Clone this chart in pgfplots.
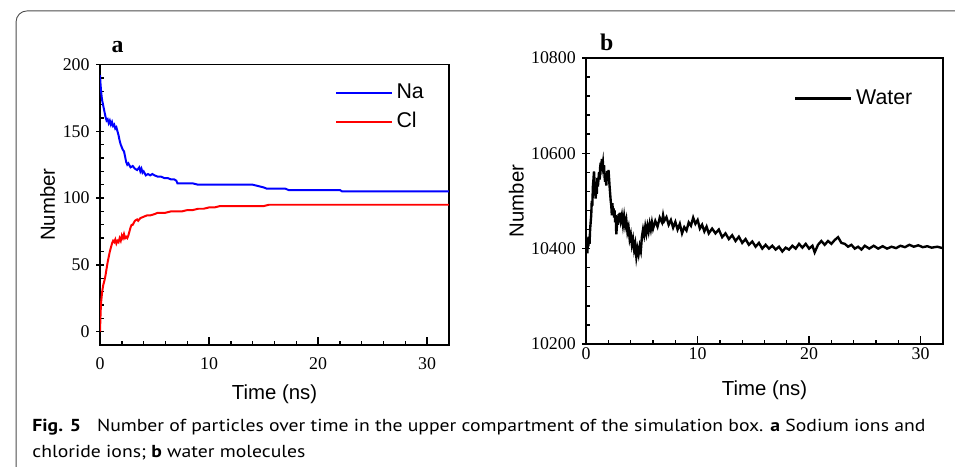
\documentclass[border=0pt]{standalone}
\usepackage{fontspec}
\setmainfont{Liberation Serif}
\setsansfont{Liberation Sans}
\newfontfamily\capfont{PT Sans}
\usepackage{graphicx}
\usepackage{pgfplots}
\pgfplotsset{compat=1.18}

\pgfplotstableread{
x y
0 192
0.05 185
0.1 180
0.15 176
0.2 173
0.3 169
0.4 165
0.5 161
0.6 158
0.7 159
0.8 156
0.9 158
1.0 155
1.1 157
1.2 154
1.3 155
1.4 152
1.5 153
1.6 150
1.7 147
1.8 143
1.9 140
2.0 138
2.1 136
2.2 135
2.3 131
2.4 127
2.5 125
2.6 126
2.8 123
3.0 124
3.2 122
3.4 121
3.6 123
3.7 120
3.8 122
3.9 119
4.0 120
4.2 117
4.4 118
4.6 117
4.8 118
5.0 117
5.3 116
5.6 116
5.9 115
6.2 115
6.5 114
6.8 114
7.0 113
7.1 111
7.5 111
8.0 111
8.5 111
9.0 110
9.5 110
10 110
11 110
12 110
13 110
14 110
14.5 109
15.0 108
15.3 107
16 107
17 107
17.3 106
18 106
20 106
22 106
22.2 105
24 105
26 105
28 105
30 105
32 105
}\natable

\pgfplotstableread{
x y
0 0
0.03 8
0.06 15
0.1 22
0.15 26
0.2 30
0.3 35
0.4 38
0.5 42
0.6 47
0.7 52
0.8 56
0.9 60
1.0 63
1.1 66
1.2 68
1.3 67
1.4 69
1.5 66
1.6 68
1.7 67
1.8 70
1.9 68
2.0 72
2.1 70
2.2 73
2.3 70
2.4 71
2.5 70
2.6 72
2.7 75
2.8 78
2.9 80
3.0 80
3.2 83
3.4 84
3.5 83
3.7 85
4.0 86
4.3 87
4.6 87
5.0 88
5.3 89
5.7 89
6.0 89
6.5 90
7.0 90
7.5 90
8.0 91
8.5 91
9.0 92
9.5 92
10 93
10.5 93
11 94
12 94
13 94
14 94
15 94
15.5 95
17 95
20 95
25 95
32 95
}\cltable

\pgfplotstableread{
x y
0.00 10425
0.05 10400
0.10 10390
0.15 10415
0.20 10405
0.25 10425
0.30 10410
0.35 10440
0.40 10455
0.45 10470
0.50 10500
0.55 10490
0.60 10530
0.65 10545
0.70 10562
0.75 10540
0.80 10520
0.85 10505
0.90 10530
0.95 10515
1.00 10548
1.05 10530
1.10 10545
1.15 10560
1.20 10545
1.25 10570
1.30 10580
1.35 10565
1.40 10588
1.45 10572
1.50 10580
1.55 10560
1.60 10575
1.65 10550
1.70 10540
1.75 10555
1.80 10532
1.85 10550
1.90 10563
1.95 10545
2.00 10565
2.05 10548
2.10 10530
2.15 10515
2.20 10500
2.25 10490
2.30 10470
2.35 10495
2.40 10475
2.45 10485
2.50 10465
2.55 10480
2.60 10455
2.65 10470
2.70 10430
2.75 10445
2.80 10465
2.85 10450
2.90 10472
2.95 10455
3.00 10475
3.10 10458
3.20 10470
3.30 10450
3.40 10468
3.50 10448
3.60 10460
3.70 10435
3.80 10445
3.90 10420
4.00 10430
4.10 10408
4.20 10420
4.30 10398
4.40 10410
4.50 10383
4.60 10400
4.70 10388
4.80 10405
4.90 10395
5.00 10425
5.10 10440
5.20 10428
5.30 10446
5.40 10432
5.50 10448
5.60 10436
5.70 10452
5.80 10440
5.90 10455
6.00 10442
6.20 10458
6.40 10446
6.60 10465
6.80 10455
6.90 10470
7.00 10458
7.20 10466
7.40 10450
7.60 10460
7.80 10444
8.00 10456
8.20 10440
8.40 10452
8.60 10432
8.80 10445
9.00 10438
9.20 10455
9.40 10448
9.60 10465
9.80 10452
10.00 10460
10.20 10442
10.40 10450
10.60 10436
10.80 10446
11.00 10432
11.30 10442
11.60 10432
11.90 10440
12.20 10424
12.50 10432
12.80 10420
13.10 10428
13.40 10416
13.70 10425
14.00 10412
14.30 10420
14.60 10408
14.90 10415
15.20 10404
15.50 10412
15.80 10400
16.10 10408
16.40 10400
16.70 10406
17.00 10398
17.30 10404
17.60 10394
17.90 10402
18.20 10398
18.50 10406
18.80 10400
19.10 10410
19.40 10402
19.70 10410
20.00 10400
20.30 10406
20.50 10392
20.80 10408
21.10 10416
21.40 10408
21.70 10416
22.00 10410
22.30 10418
22.60 10424
22.90 10412
23.20 10410
23.50 10404
23.80 10408
24.10 10400
24.40 10404
24.70 10398
25.00 10406
25.40 10400
25.80 10406
26.20 10400
26.60 10405
27.00 10400
27.40 10404
27.80 10401
28.20 10406
28.60 10403
29.00 10408
29.40 10404
29.80 10407
30.20 10403
30.60 10405
31.00 10402
31.50 10404
32.00 10401
}\watertable

\pgfplotsset{
  panel/.style={
    scale only axis, anchor=south west,
    xmin=0, xmax=32, xtick={0,10,20,30}, minor x tick num=4,
    tick align=inside, tick pos=left,
    axis line style={line width=1.5pt},
    major tick length=8pt, minor tick length=4pt,
    every tick/.append style={black, line width=1.4pt},
    major y tick style={xshift=-4pt},
    scaled y ticks=false,
    tick label style={font=\fontsize{18}{18}\selectfont},
    yticklabel style={xshift=-7pt},
    /pgf/number format/assume math mode=true,
    /pgf/number format/1000 sep={},
    /pgf/number format/fixed,
    label style={font=\sffamily\fontsize{20.5}{20.5}\selectfont},
    xlabel={Time (ns)}, ylabel={Number},
    legend style={draw=none, fill=none, inner sep=0pt,
      font=\sffamily\fontsize{21.5}{21.5}\selectfont,
      nodes={inner sep=0pt, text height=16pt, text depth=4pt},
      column sep=4pt, row sep=9.4pt},
    legend cell align=left,
    legend image code/.code={\draw[##1] (0pt,0pt) -- (56pt,0pt);},
  }
}

\newsavebox\capA
\newsavebox\capB

\begin{document}
\sbox\capA{\capfont\fontsize{17.5}{17.5}\selectfont\textbf{Fig. 5}\hspace{0.55em} Number of particles over time in the upper compartment of the simulation box. \textbf{a} Sodium ions and}
\sbox\capB{\capfont\fontsize{17.5}{17.5}\selectfont chloride ions; \textbf{b} water molecules}
\pgfmathsetmacro\capscale{900/(\the\wd\capA)}
\begin{tikzpicture}
\useasboundingbox (0pt,0pt) rectangle (955pt,-470pt);

% frame of the figure
\draw[gray!60!black, line width=0.9pt, rounded corners=11pt] (8.7pt,-490pt) -- (8.7pt,-11pt) -- (975pt,-11pt);

% (a) sodium and chloride
\begin{axis}[panel, at={(93.3pt,-347.7pt)}, width=351.7pt, height=282.7pt,
    ymin=-10, ymax=200, ytick={0,50,100,150,200}, minor y tick num=4,
    xticklabel style={yshift=-9pt},
    xlabel style={at={(axis description cs:0.5,-0.176)}, anchor=center},
    ylabel style={at={(axis description cs:-0.15,0.5)}, anchor=center, rotate=0},
    legend style={at={(0.673,0.848)}, anchor=west}]
  \addplot[blue, line width=2pt] table[x=x,y=y] {\natable};
  \addlegendentry{Na}
  \addplot[red, line width=2pt] table[x=x,y=y] {\cltable};
  \addlegendentry{Cl}
\end{axis}

% (b) water
\begin{axis}[panel, at={(583.3pt,-346.7pt)}, width=359.4pt, height=288.4pt,
    ymin=10200, ymax=10800, ytick={10200,10400,10600,10800}, minor y tick num=4,
    xticklabel style={yshift=0pt},
    xlabel style={at={(axis description cs:0.5,-0.16)}, anchor=center},
    ylabel style={at={(axis description cs:-0.196,0.5)}, anchor=center, rotate=0},
    legend style={at={(0.583,0.858)}, anchor=west}]
  \addplot[black, line width=2.4pt] table[x=x,y=y] {\watertable};
  \addlegendentry{Water}
\end{axis}

% panel letters
\node[anchor=base, font=\bfseries\fontsize{24}{24}\selectfont, inner sep=0pt] at (111pt,-52.7pt) {a};
\node[anchor=base, font=\bfseries\fontsize{24}{24}\selectfont, inner sep=0pt] at (604pt,-50.7pt) {b};

% caption
\node[anchor=base west, inner sep=0pt, text=black!85] at (25pt,-435pt) {\scalebox{\capscale}[1]{\usebox\capA}};
\node[anchor=base west, inner sep=0pt, text=black!85] at (25pt,-461pt) {\scalebox{\capscale}[1]{\usebox\capB}};
\end{tikzpicture}
\end{document}
